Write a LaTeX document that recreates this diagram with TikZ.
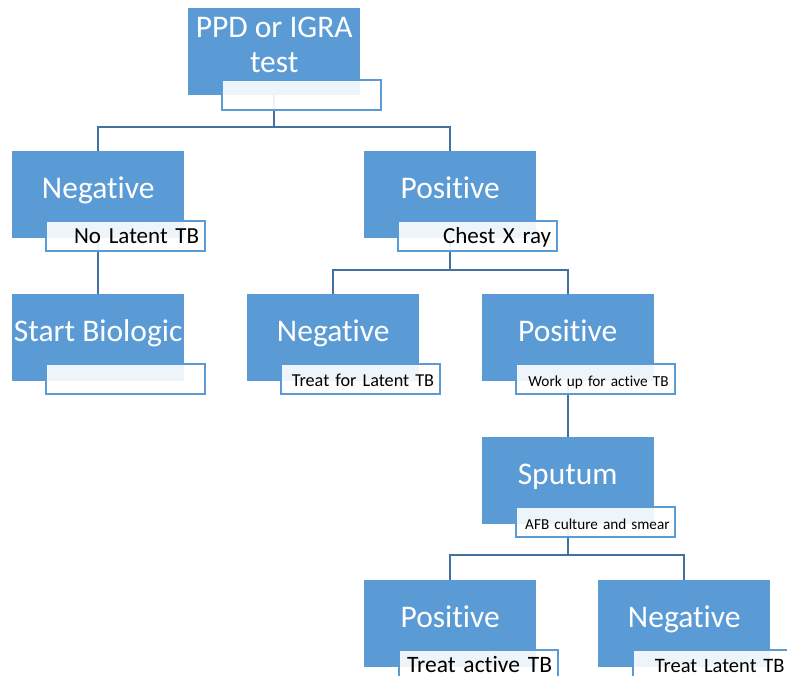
\documentclass[tikz,border=0pt]{standalone}
\usepackage{fontspec}
\setmainfont{Carlito}[Ligatures={NoCommon,TeX}]
\usetikzlibrary{backgrounds}
\definecolor{boxblue}{HTML}{5B9BD5}
\definecolor{lineblue}{HTML}{41719C}
\begin{document}
\begin{tikzpicture}[x=1pt,y=-1pt,
  bluebox/.style={fill=boxblue, draw=none, minimum width=172pt, minimum height=87pt,
    anchor=north west, text=white, font=\fontsize{31.5}{35}\selectfont,
    text height=20pt, text depth=13pt, inner sep=0pt, align=center},
  lab/.style={fill=white, fill opacity=0.9, text opacity=1, draw=boxblue, line width=2.2pt,
    minimum width=159pt, minimum height=30pt, anchor=north west, text width=147pt,
    align=right, inner xsep=6pt, inner ysep=0pt, text height=17pt, text depth=3pt, text=black},
  conn/.style={draw=lineblue, line width=2.2pt}]
\useasboundingbox (0,0) rectangle (787,676);
% boxes
\node[bluebox, text height={}, text depth={}] (b1) at (188,8) {PPD or IGRA\\test\rule[-13pt]{0pt}{0pt}};
\node[bluebox] (b2) at (12,151) {Negative};
\node[bluebox] (b3) at (364,151) {Positive};
\node[bluebox] (b4) at (12,294) {Start Biologic};
\node[bluebox] (b5) at (247,294) {Negative};
\node[bluebox] (b6) at (481.5,294) {Positive};
\node[bluebox] (b7) at (481.5,437) {Sputum};
\node[bluebox] (b8) at (364,580) {Positive};
\node[bluebox] (b9) at (598,580) {Negative};
% labels
\node[lab] (l1) at ([shift={(33,71)}]b1.north west) {};
\node[lab, font=\fontsize{23}{26}\selectfont] (l2) at ([shift={(33,69)}]b2.north west) {No Latent TB};
\node[lab, font=\fontsize{23}{26}\selectfont] (l3) at ([shift={(33,69)}]b3.north west) {Chest X ray};
\node[lab] (l4) at ([shift={(33,69)}]b4.north west) {};
\node[lab, font=\fontsize{18.2}{21}\selectfont] (l5) at ([shift={(33,69)}]b5.north west) {\mbox{Treat for Latent TB}};
\node[lab, font=\fontsize{15.3}{19}\selectfont] (l6) at ([shift={(33,69)}]b6.north west) {\mbox{Work up for active TB}};
\node[lab, font=\fontsize{15.2}{19}\selectfont, text width=149pt, inner xsep=5pt] (l7) at ([shift={(33,69)}]b7.north west) {\mbox{AFB culture and smear}};
\node[lab, font=\fontsize{23.5}{26}\selectfont] (l8) at ([shift={(34,69)}]b8.north west) {Treat active TB};
\node[lab, font=\fontsize{20.5}{24}\selectfont, text width=144pt, inner xsep=7.5pt] (l9) at ([shift={(34,69)}]b9.north west) {Treat Latent TB};
% connectors
\coordinate (r1) at (0,127);
\coordinate (r2) at (0,270);
\coordinate (r3) at (0,555);
\begin{scope}[on background layer]
\fill[white] (0,0) rectangle (787,676);
\draw[conn] (b1.south) -- (b1.south |- r1) -| (b2.north);
\draw[conn] (b1.south |- r1) -| (b3.north);
\draw[conn] (b2.south) -- (b4.north);
\draw[conn] (b3.south) -- (b3.south |- r2) -| (b5.north);
\draw[conn] (b3.south |- r2) -| (b6.north);
\draw[conn] (b6.south) -- (b7.north);
\draw[conn] (b7.south) -- (b7.south |- r3) -| (b8.north);
\draw[conn] (b7.south |- r3) -| (b9.north);
\end{scope}
\end{tikzpicture}
\end{document}
